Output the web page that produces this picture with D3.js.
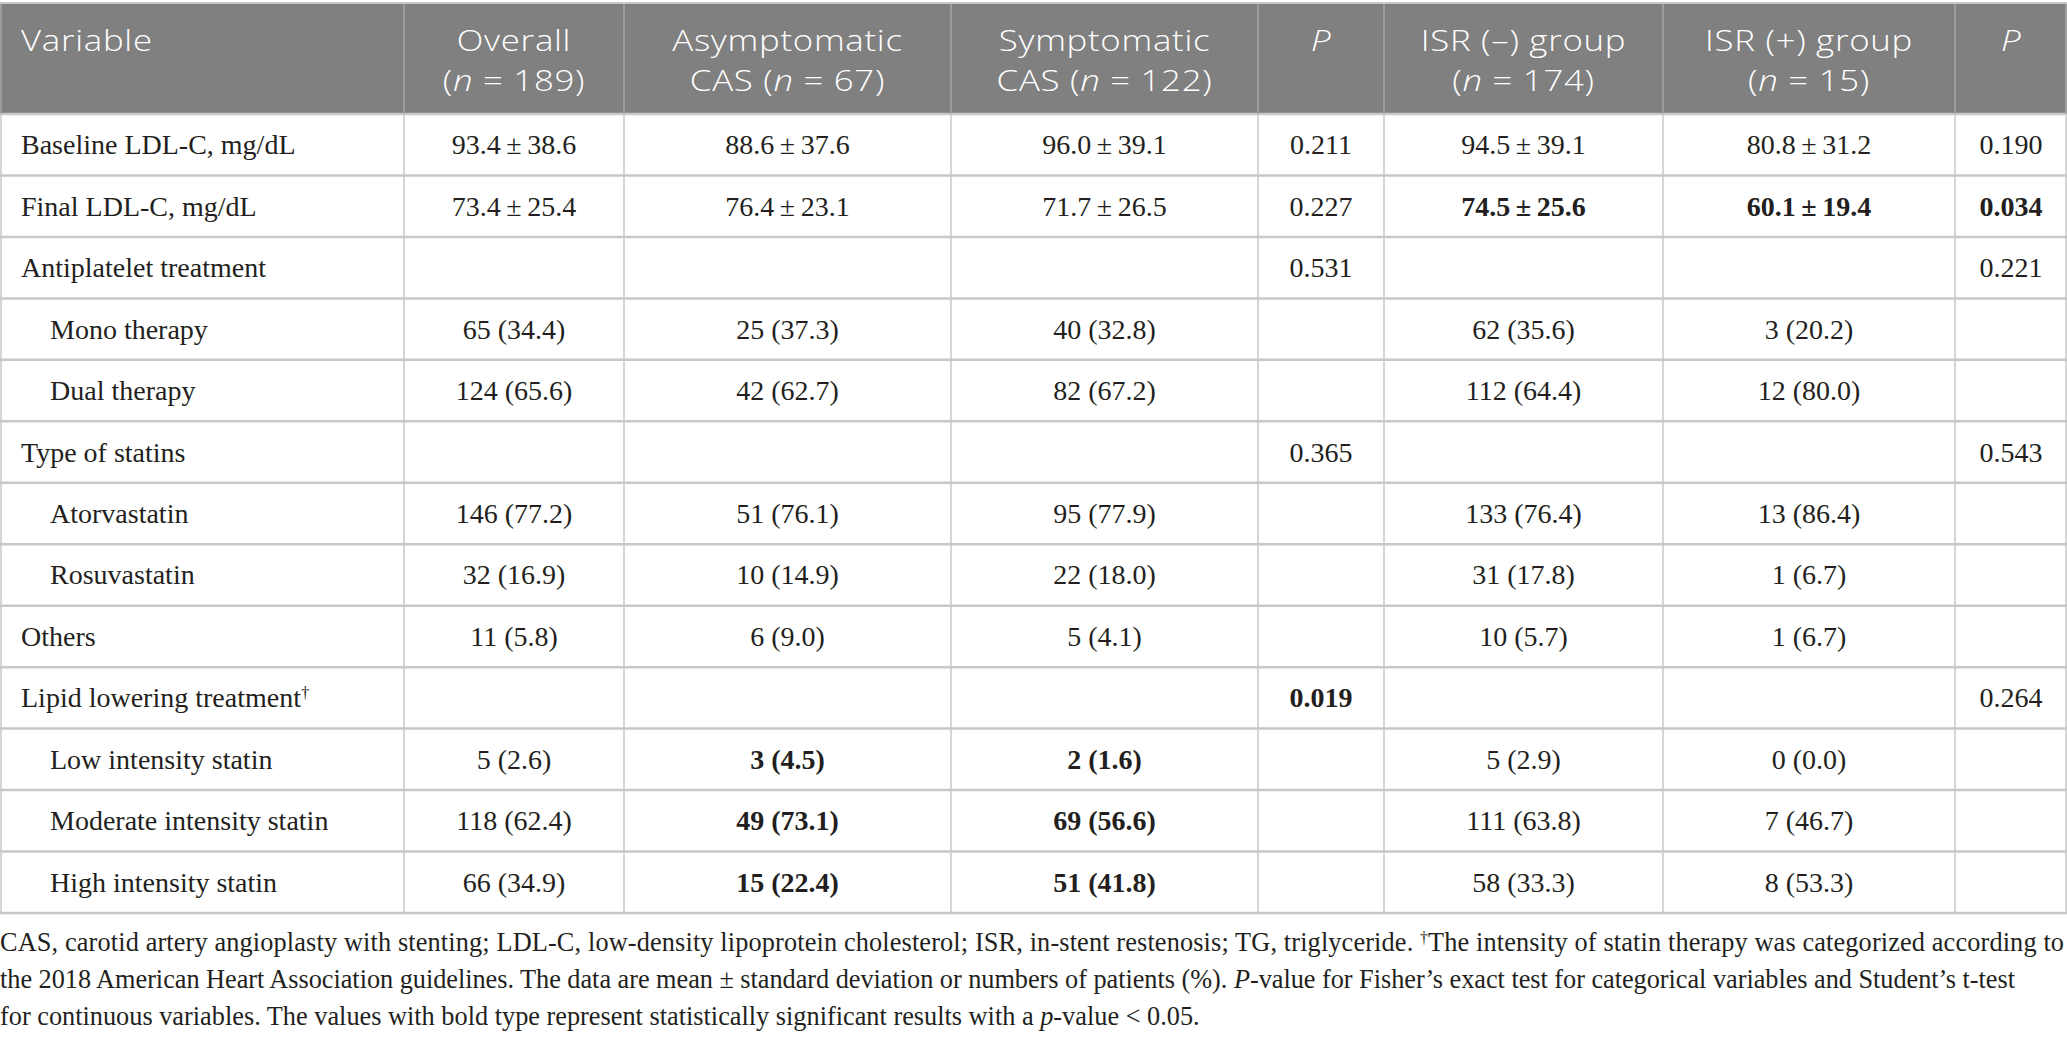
<!DOCTYPE html>
<html>
<head>
<meta charset="utf-8">
<script src="https://cdn.jsdelivr.net/npm/d3@7"></script>
<style>
  html, body { margin: 0; padding: 0; background: #fff; }
  svg { display: block; }
</style>
</head>
<body>
<svg id="chart"></svg>
<script>
const W = 2067, H = 1040;

// header cells, *x* = italic
const columns = ["variable", "overall", "asym", "sym", "p1", "isrNeg", "isrPos", "p2"];
const headerLines = [
  ["Variable"],
  ["Overall", "(*n* = 189)"],
  ["Asymptomatic", "CAS (*n* = 67)"],
  ["Symptomatic", "CAS (*n* = 122)"],
  ["*P*"],
  ["ISR (–) group", "(*n* = 174)"],
  ["ISR (+) group", "(*n* = 15)"],
  ["*P*"]
];

// row labels, ^x^ = superscript
const variables = [
  "Baseline LDL-C, mg/dL", "Final LDL-C, mg/dL", "Antiplatelet treatment",
  "Mono therapy", "Dual therapy", "Type of statins", "Atorvastatin",
  "Rosuvastatin", "Others", "Lipid lowering treatment^†^",
  "Low intensity statin", "Moderate intensity statin", "High intensity statin"
];
const subRows = [3, 4, 6, 7, 10, 11, 12];

const overall = ["93.4 ± 38.6", "73.4 ± 25.4", "", "65 (34.4)", "124 (65.6)", "", "146 (77.2)", "32 (16.9)", "11 (5.8)", "", "5 (2.6)", "118 (62.4)", "66 (34.9)"];
const asym    = ["88.6 ± 37.6", "76.4 ± 23.1", "", "25 (37.3)", "42 (62.7)", "", "51 (76.1)", "10 (14.9)", "6 (9.0)", "", "3 (4.5)", "49 (73.1)", "15 (22.4)"];
const sym     = ["96.0 ± 39.1", "71.7 ± 26.5", "", "40 (32.8)", "82 (67.2)", "", "95 (77.9)", "22 (18.0)", "5 (4.1)", "", "2 (1.6)", "69 (56.6)", "51 (41.8)"];
const p1      = ["0.211", "0.227", "0.531", "", "", "0.365", "", "", "", "0.019", "", "", ""];
const isrNeg  = ["94.5 ± 39.1", "74.5 ± 25.6", "", "62 (35.6)", "112 (64.4)", "", "133 (76.4)", "31 (17.8)", "10 (5.7)", "", "5 (2.9)", "111 (63.8)", "58 (33.3)"];
const isrPos  = ["80.8 ± 31.2", "60.1 ± 19.4", "", "3 (20.2)", "12 (80.0)", "", "13 (86.4)", "1 (6.7)", "1 (6.7)", "", "0 (0.0)", "7 (46.7)", "8 (53.3)"];
const p2      = ["0.190", "0.034", "0.221", "", "", "0.543", "", "", "", "0.264", "", "", ""];

// significant cells (row:column)
const boldCells = ["1:isrNeg", "1:isrPos", "1:p2", "9:p1", "10:asym", "10:sym", "11:asym", "11:sym", "12:asym", "12:sym"];

const footnote = [
  "CAS, carotid artery angioplasty with stenting; LDL-C, low-density lipoprotein cholesterol; ISR, in-stent restenosis; TG, triglyceride. ^†^The intensity of statin therapy was categorized according to",
  "the 2018 American Heart Association guidelines. The data are mean ± standard deviation or numbers of patients (%). *P*-value for Fisher’s exact test for categorical variables and Student’s t-test",
  "for continuous variables. The values with bold type represent statistically significant results with a *p*-value < 0.05."
];

const valueCols = { overall, asym, sym, p1, isrNeg, isrPos, p2 };

// layout
const colEdges = [0, 404, 624, 951, 1258, 1384, 1663, 1955, 2067];
const headTop = 4, headBottom = 114, tableBottom = 913;
const footWidths = [2064, 2015, null];
const sans = "'Open Sans', 'Noto Sans', sans-serif";
const serif = "'Liberation Serif', 'DejaVu Serif', serif";
const ink = "#231f20";
const headStretch = 1.2; // header face in the source is wide with a low cap height

const xLeft = d3.scaleOrdinal().domain(columns).range(colEdges.slice(0, -1));
const xRight = d3.scaleOrdinal().domain(columns).range(colEdges.slice(1));
const xMid = c => (xLeft(c) + xRight(c)) / 2;
const y = d3.scaleBand().domain(d3.range(variables.length)).range([headBottom, tableBottom]);

const svg = d3.select("#chart").attr("width", W).attr("height", H);

function rich(sel, str) {
  str.split(/(\*[^*]+\*|\^[^^]+\^)/).filter(s => s).forEach(s => {
    if (s[0] === "*") sel.append("tspan").attr("font-style", "italic").text(s.slice(1, -1));
    else if (s[0] === "^") sel.append("tspan").attr("baseline-shift", "super").attr("font-size", "60%").text(s.slice(1, -1));
    else sel.append("tspan").text(s);
  });
}

// header
svg.append("rect").attr("x", 0).attr("y", headTop).attr("width", W).attr("height", headBottom - headTop).attr("fill", "#808080");

// grid
const edge = d => Math.min(Math.max(d, 1), W - 1);
const grid = svg.append("g");
grid.selectAll("line.h").data(d3.range(variables.length + 1)).join("line")
  .attr("x1", 0).attr("x2", W)
  .attr("y1", i => i < variables.length ? y(i) : tableBottom)
  .attr("y2", i => i < variables.length ? y(i) : tableBottom)
  .attr("stroke", "#c8c8c8").attr("stroke-width", 2.5);
grid.selectAll("line.v").data(colEdges).join("line")
  .attr("x1", edge).attr("x2", edge)
  .attr("y1", headBottom).attr("y2", tableBottom)
  .attr("stroke", "#c8c8c8").attr("stroke-width", 1.5);
grid.selectAll("line.hv").data(colEdges).join("line")
  .attr("x1", edge).attr("x2", edge)
  .attr("y1", headTop).attr("y2", headBottom)
  .attr("stroke", "#a6a6a6").attr("stroke-width", 1.5);
svg.append("line").attr("x1", 0).attr("x2", W).attr("y1", headTop - 1).attr("y2", headTop - 1)
  .attr("stroke", "#c8c8c8").attr("stroke-width", 2);

// header text, one text per line
const headItems = [];
columns.forEach((c, ci) => headerLines[ci].forEach((line, li) => headItems.push({ ci, c, li, line })));
svg.append("g").selectAll("g").data(headItems).join("g")
  .attr("transform", d => `translate(${d.ci === 0 ? 21 : xMid(d.c)},${51 + d.li * 39.5}) scale(${headStretch},1)`)
  .append("text")
  .attr("font-family", sans).attr("font-size", 29).attr("font-weight", 300)
  .attr("letter-spacing", 0.6).attr("fill", "#fff")
  .attr("text-anchor", d => d.ci === 0 ? "start" : "middle")
  .each(function (d) { rich(d3.select(this), d.line); });

// labels
svg.append("g").selectAll("text").data(variables).join("text")
  .attr("x", (d, i) => subRows.includes(i) ? 50 : 21)
  .attr("y", (d, i) => y(i) + y.bandwidth() / 2 + 9.5)
  .attr("font-family", serif).attr("font-size", 28).attr("fill", ink)
  .each(function (d) { rich(d3.select(this), d); });

// values
const cells = [];
Object.keys(valueCols).forEach(c => valueCols[c].forEach((v, i) => { if (v) cells.push({ c, i, v }); }));
svg.append("g").selectAll("text").data(cells).join("text")
  .attr("x", d => xMid(d.c))
  .attr("y", d => y(d.i) + y.bandwidth() / 2 + 9.5)
  .attr("text-anchor", "middle")
  .attr("font-family", serif).attr("font-size", 28).attr("fill", ink)
  .attr("font-weight", d => boldCells.includes(d.i + ":" + d.c) ? "bold" : null)
  .text(d => d.v.replace(" ± ", "\u2009±\u2009"));

// footnote
svg.append("g").selectAll("text").data(footnote).join("text")
  .attr("x", 0).attr("y", (d, i) => 951 + i * 37)
  .attr("font-family", serif).attr("font-size", 26.3).attr("fill", ink)
  .each(function (d, i) {
    rich(d3.select(this), d);
    if (footWidths[i]) d3.select(this).attr("textLength", footWidths[i]).attr("lengthAdjust", "spacing");
  });
</script>
</body>
</html>
